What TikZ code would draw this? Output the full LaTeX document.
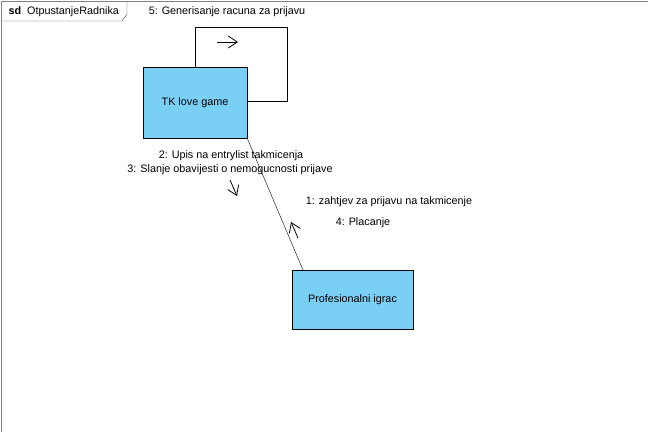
\documentclass[tikz,border=0pt]{standalone}
\usepackage{fontspec}
\setmainfont{Liberation Sans}
\usetikzlibrary{arrows.meta}

\definecolor{boxblue}{RGB}{122,207,245}
\definecolor{framegray}{RGB}{128,128,128}

\begin{document}
\begin{tikzpicture}[x=1pt,y=-1pt,font=\fontsize{10.8}{12}\selectfont,
    msg/.style={-{Straight Barb[length=9pt,width=12pt]},line width=0.8pt}]

      \useasboundingbox (0,0) rectangle (648,432);

      % frame
      \draw[framegray,line width=1pt] (1,432) -- (1,1) -- (648,1);
      \draw[black!70] (1,21) -- (122,21) -- (127,14) -- (127,1);
      \node[anchor=west] (title) at (5,11.5) {\textbf{sd}\ \ OtpustanjeRadnika};

      \begin{scope}[every node/.style={rectangle,draw,fill=boxblue}]
        \node[minimum width=104pt,minimum height=71pt] (tk) at (195,102.5) {TK love game};
        \node[minimum width=121pt,minimum height=59pt] (pi) at (352.5,299.5) {Profesionalni igrac};
      \end{scope}

      \coordinate (loopa) at (287,27);
      \coordinate (loopb) at (287,101);
      \coordinate (pitop) at (303,270);

      \draw (tk.north) |- (loopa) -- (loopb) -- (tk.east |- loopb);
      \draw (tk.south east) -- (pitop);

      % message arrows
      \coordinate (a5s) at (217,42);
      \coordinate (a5e) at (238,42);
      \coordinate (a2s) at (230,180);
      \coordinate (a2e) at (237,196);
      \coordinate (a1s) at (298,238);
      \coordinate (a1e) at (291,222);
      \draw[msg] (a5s) -- (a5e);
      \draw[msg] (a2s) -- (a2e);
      \draw[msg] (a1s) -- (a1e);

      \begin{scope}[every node/.style={inner sep=0pt}]
        \node (m5) at (227,12)  {5: Generisanje racuna za prijavu};
        \node (m2) at (231,156) {2: Upis na entrylist takmicenja};
        \node (m3) at (230,170) {3: Slanje obavijesti o nemogucnosti prijave};
        \node (m1) at (389,202) {1: zahtjev za prijavu na takmicenje};
        \node (m4) at (363,223) {4: Placanje};
      \end{scope}

    \end{tikzpicture}
\end{document}
